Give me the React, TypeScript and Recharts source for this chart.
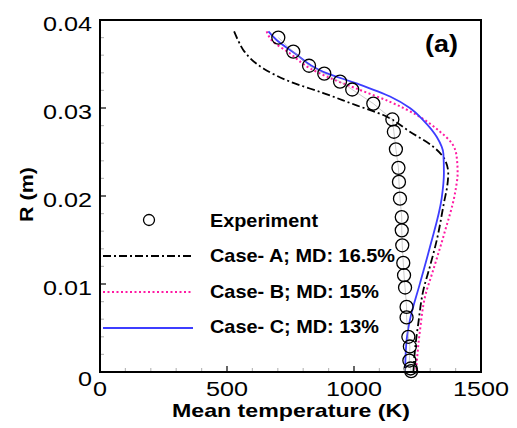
import React from "react";
import { ComposedChart, Scatter, XAxis, YAxis } from "recharts";

// experiment (circles)
const expT = [702, 761, 823, 883, 945, 993, 1076, 1151, 1157, 1165, 1175, 1177, 1181, 1188, 1188, 1190, 1194, 1197, 1201, 1207, 1207, 1214, 1220, 1218, 1223, 1225];
const expR = [0.038, 0.0364, 0.0348, 0.0339, 0.033, 0.0321, 0.0305, 0.0287, 0.0273, 0.0253, 0.0232, 0.0216, 0.0197, 0.0176, 0.0161, 0.0144, 0.0124, 0.011, 0.0096, 0.0074, 0.0062, 0.004, 0.0029, 0.0013, 0.0004, 0.0001];

// Case-A
const caseAT = [528, 545, 564, 643, 748, 879, 1010, 1115, 1220, 1312, 1358, 1371, 1367, 1356, 1326, 1299, 1273, 1253, 1240, 1234];
const caseAR = [0.0387, 0.0376, 0.0366, 0.0345, 0.033, 0.0317, 0.0303, 0.0292, 0.0273, 0.0256, 0.0241, 0.0226, 0.0211, 0.0195, 0.015, 0.012, 0.0093, 0.0055, 0.0025, 0];

// Case-B
const caseBT = [656, 676, 748, 827, 906, 1010, 1142, 1247, 1339, 1385, 1404, 1408, 1400, 1352, 1312, 1280, 1260, 1244];
const caseBR = [0.0387, 0.0377, 0.0362, 0.0345, 0.0334, 0.0322, 0.0307, 0.0292, 0.0273, 0.026, 0.0245, 0.0226, 0.0207, 0.0154, 0.0116, 0.0086, 0.0048, 0];

// Case-C
const caseCT = [663, 696, 768, 833, 879, 1010, 1142, 1220, 1273, 1326, 1352, 1354, 1345, 1299, 1260, 1220, 1207, 1201];
const caseCR = [0.0387, 0.0377, 0.0362, 0.0348, 0.0341, 0.0328, 0.0313, 0.03, 0.0286, 0.0267, 0.0248, 0.0226, 0.0197, 0.0142, 0.0101, 0.0059, 0.0036, 0];

const xTicks = [0, 100, 200, 300, 400, 500, 600, 700, 800, 900, 1000, 1100, 1200, 1300, 1400, 1500];
const xMajor = [0, 500, 1000, 1500];
const yTicks = [0, 0.002, 0.004, 0.006, 0.008, 0.01, 0.012, 0.014, 0.016, 0.018, 0.02, 0.022, 0.024, 0.026, 0.028, 0.03, 0.032, 0.034, 0.036, 0.038, 0.04];
const yMajor = [0, 0.01, 0.02, 0.03, 0.04];

const zip = (t: number[], r: number[]) => t.map((v, i) => ({ t: v, r: r[i] }));

const FONT = "'Liberation Sans', Arial, sans-serif";
const MAJ = 6;
const MIN = 4;
const MINOR_COLOR = "#bbb";

const isMajor = (arr: number[], v: number) => arr.some((m) => Math.abs(m - v) < 1e-9);
const fmtY = (v: number) => (v === 0 ? "0" : v.toFixed(2));

function Label({ x, y, anchor, children }: any) {
  return (
    <g transform={`translate(${x} ${y}) scale(1.2 1)`}>
      <text x={0} y={0} textAnchor={anchor} fontSize={21} fontFamily={FONT} fill="#000">
        {children}
      </text>
    </g>
  );
}

function BottomTick({ x, y, payload }: any) {
  const major = isMajor(xMajor, payload.value);
  return (
    <g>
      <line x1={x} x2={x} y1={y} y2={y - (major ? MAJ : MIN)} stroke={major ? "#000" : MINOR_COLOR} strokeWidth={1.2} />
      {major && <Label x={x} y={y + 23.5} anchor="middle">{payload.value}</Label>}
    </g>
  );
}

function TopTick({ x, y, payload }: any) {
  const major = isMajor(xMajor, payload.value);
  return <line x1={x} x2={x} y1={y} y2={y + (major ? MAJ : MIN)} stroke={major ? "#000" : MINOR_COLOR} strokeWidth={1.2} />;
}

function LeftTick({ x, y, payload }: any) {
  const v = payload.value;
  const major = isMajor(yMajor, v);
  return (
    <g>
      <line x1={x} x2={x + (major ? MAJ : MIN)} y1={y} y2={y} stroke={major ? "#000" : MINOR_COLOR} strokeWidth={1.2} />
      {major && (
        <Label x={x - 8} y={y + (v === 0 ? 14 : 10.5)} anchor="end">
          {fmtY(v)}
        </Label>
      )}
    </g>
  );
}

function RightTick({ x, y, payload }: any) {
  const major = isMajor(yMajor, payload.value);
  return <line x1={x} x2={x - (major ? MAJ : MIN)} y1={y} y2={y} stroke={major ? "#000" : MINOR_COLOR} strokeWidth={1.2} />;
}

const Ring = ({ cx, cy }: any) => (
  <circle cx={cx} cy={cy} r={6.5} fill="none" stroke="#000" strokeWidth={1.3} />
);
const NoDot = () => <g />;

const axisLine = { stroke: "#000", strokeWidth: 2 };

export default function App() {
  return (
    <div style={{ position: "absolute", left: 0, top: 0, width: 517, height: 428, background: "#fff" }}>
      <ComposedChart width={517} height={428} margin={{ top: 20, right: 36, bottom: 0, left: 40 }}>
        <XAxis
          dataKey="t"
          type="number"
          domain={[0, 1500]}
          ticks={xTicks}
          interval={0}
          height={56}
          tickSize={0}
          tickMargin={0}
          tickLine={false}
          stroke="#000"
          axisLine={axisLine}
          tick={<BottomTick />}
        />
        <XAxis
          xAxisId="top"
          orientation="top"
          dataKey="t"
          type="number"
          domain={[0, 1500]}
          ticks={xTicks}
          interval={0}
          height={0}
          tickSize={0}
          tickMargin={0}
          tickLine={false}
          stroke="#000"
          axisLine={axisLine}
          tick={<TopTick />}
        />
        <YAxis
          dataKey="r"
          type="number"
          domain={[0, 0.04]}
          ticks={yTicks}
          interval={0}
          width={60}
          tickSize={0}
          tickMargin={0}
          tickLine={false}
          stroke="#000"
          axisLine={axisLine}
          tick={<LeftTick />}
        />
        <YAxis
          yAxisId="right"
          orientation="right"
          dataKey="r"
          type="number"
          domain={[0, 0.04]}
          ticks={yTicks}
          interval={0}
          width={0}
          tickSize={0}
          tickMargin={0}
          tickLine={false}
          stroke="#000"
          axisLine={axisLine}
          tick={<RightTick />}
        />
        <Scatter
          data={zip(caseAT, caseAR)}
          shape={NoDot}
          line={{ stroke: "#000", strokeWidth: 1.8, strokeDasharray: "8 3 2 3" }}
          lineJointType="monotoneY"
          isAnimationActive={false}
        />
        <Scatter
          data={zip(caseBT, caseBR)}
          shape={NoDot}
          line={{ stroke: "#ff1aa3", strokeWidth: 2, strokeDasharray: "2 2.5" }}
          lineJointType="monotoneY"
          isAnimationActive={false}
        />
        <Scatter
          data={zip(caseCT, caseCR)}
          shape={NoDot}
          line={{ stroke: "#3d3dff", strokeWidth: 1.8 }}
          lineJointType="monotoneY"
          isAnimationActive={false}
        />
        <Scatter
          data={zip(expT, expR)}
          shape={Ring}
          line={{ stroke: "#aaa", strokeWidth: 0.6 }}
          isAnimationActive={false}
        />
      </ComposedChart>

      <svg
        width={517}
        height={428}
        style={{ position: "absolute", left: 0, top: 0, pointerEvents: "none" }}
        fontFamily={FONT}
        fontWeight="bold"
      >
        {/* plot frame */}
        <rect x={100} y={20} width={381} height={352} fill="none" stroke="#000" strokeWidth={2} />

        <text x={425} y={52} fontSize={23} textLength={33} lengthAdjust="spacingAndGlyphs">(a)</text>

        <circle cx={149} cy={220} r={5.5} fill="none" stroke="#000" strokeWidth={1.3} />
        <text x={210} y={226.7} fontSize={18.5} textLength={108} lengthAdjust="spacingAndGlyphs">Experiment</text>

        <line x1={103} x2={193} y1={256} y2={256} stroke="#000" strokeWidth={1.8} strokeDasharray="8 3 2 3" />
        <text x={210} y={261.7} fontSize={18.5} textLength={185} lengthAdjust="spacingAndGlyphs">Case- A; MD: 16.5%</text>

        <line x1={103} x2={193} y1={292} y2={292} stroke="#ff1aa3" strokeWidth={2} strokeDasharray="2 2.5" />
        <text x={210} y={298} fontSize={18.5} textLength={169} lengthAdjust="spacingAndGlyphs">Case- B; MD: 15%</text>

        <line x1={103} x2={193} y1={328} y2={328} stroke="#3d3dff" strokeWidth={1.8} />
        <text x={210} y={333.3} fontSize={18.5} textLength={169} lengthAdjust="spacingAndGlyphs">Case- C; MD: 13%</text>

        <text x={291} y={416.7} fontSize={18.6} textAnchor="middle" textLength={238} lengthAdjust="spacingAndGlyphs">
          Mean temperature (K)
        </text>
        <text
          transform="translate(33 194.5) rotate(-90)"
          x={0}
          y={0}
          fontSize={18.6}
          textAnchor="middle"
          textLength={55}
          lengthAdjust="spacingAndGlyphs"
        >
          R (m)
        </text>
      </svg>
    </div>
  );
}
